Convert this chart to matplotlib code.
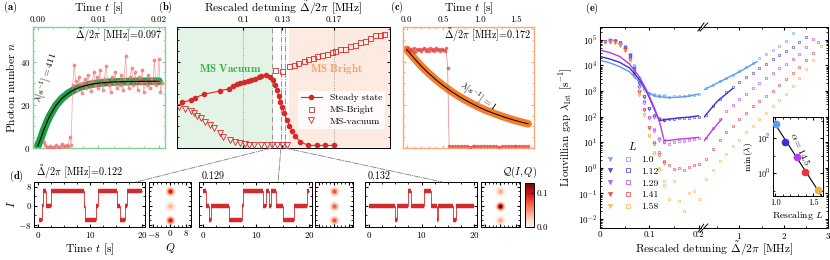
import numpy as np
import matplotlib.pyplot as plt
import matplotlib.colors as mcolors
from matplotlib.ticker import MultipleLocator, FixedLocator, NullFormatter, LogLocator
from matplotlib.patches import ConnectionPatch
from matplotlib.lines import Line2D
from matplotlib.legend_handler import HandlerTuple
from matplotlib.cm import ScalarMappable

plt.rcParams['font.family'] = ['cmr10', 'DejaVu Serif']
plt.rcParams['mathtext.fontset'] = 'cm'
plt.rcParams['axes.formatter.use_mathtext'] = True
plt.rcParams['font.size'] = 7
plt.rcParams['axes.labelsize'] = 8.3
plt.rcParams['xtick.labelsize'] = 6.5
plt.rcParams['ytick.labelsize'] = 6.5
plt.rcParams['xtick.direction'] = 'in'
plt.rcParams['ytick.direction'] = 'in'
plt.rcParams['xtick.major.size'] = 2.5
plt.rcParams['ytick.major.size'] = 2.5
plt.rcParams['xtick.minor.size'] = 1.3
plt.rcParams['ytick.minor.size'] = 1.3
plt.rcParams['axes.linewidth'] = 0.7
plt.rcParams['xtick.major.pad'] = 2
plt.rcParams['ytick.major.pad'] = 2

# ---------------- data ----------------
# (a) switch-on at detuning 0.097 MHz
a_red_n = [2.8, 1.5, 0.5, 0.2, 0.8, 0.3, 0.1, 0.6, 1.4, 0.4, 0.2, 0.9, 1.8, 1.1, 0.7, 1.2, 1.0, 5.0, 1.5,
           29.0, 38.6, 31.0, 27.0, 33.0, 29.5, 25.5, 30.0, 32.0, 28.0,
           34.0, 30.0, 26.5, 31.0, 35.0, 29.0, 33.0, 28.0, 36.0, 30.0,
           27.0, 32.0, 38.0, 31.0, 29.0, 26.0, 33.0, 30.0, 35.0, 28.0,
           31.0, 29.0, 34.0, 27.0, 32.0, 42.5, 30.0, 28.0, 33.0, 37.0,
           29.0, 35.0, 31.0, 27.0, 33.0, 30.0, 36.0, 26.0, 31.0, 29.0,
           34.0, 28.0, 32.0, 30.0, 40.5, 29.0, 31.0, 41.0, 26.0, 30.0]
a_red_t = np.linspace(0.001, 0.0205, len(a_red_n))
a_t = [0, 0.0005, 0.001, 0.0015, 0.002, 0.003, 0.004, 0.005, 0.006, 0.007, 0.008, 0.009,
       0.010, 0.012, 0.014, 0.016, 0.018, 0.020]
a_n = [1.0, 4.5, 8.5, 12.0, 15.0, 19.8, 23.0, 25.3, 27.0, 28.2, 29.0, 29.6, 30.0, 30.5,
       30.7, 30.8, 30.9, 30.9]

# (b) photon number vs rescaled detuning
ss_x = [0.0528, 0.0598, 0.063, 0.0695, 0.0818, 0.0887, 0.092, 0.0952, 0.0977, 0.1003, 0.1033,
        0.106, 0.109, 0.1118, 0.114, 0.1177, 0.1208, 0.1233, 0.1246, 0.126, 0.1272, 0.1285,
        0.1298, 0.1315, 0.1336, 0.1356, 0.1375, 0.14, 0.1438, 0.1502, 0.1567, 0.163, 0.1695]
ss_n = [21.1, 22.2, 23.3, 24.8, 26.4, 27.4, 28.8, 29.8, 30.1, 30.5, 31.0, 31.3, 32.1, 32.7, 33.2,
        33.6, 32.9, 31.3, 29.3, 26.7, 24.2, 21.5, 18.9, 16.1, 13.0, 10.2, 7.9, 5.6, 2.9, 1.2,
        1.2, 1.2, 1.2]
br_x = [0.1246, 0.1298, 0.1349, 0.1387, 0.1425, 0.1464, 0.1502, 0.154, 0.1567, 0.1605, 0.1644,
        0.1682, 0.1708, 0.1746, 0.1785, 0.1823, 0.1862, 0.19, 0.1938, 0.1977, 0.2015, 0.2054, 0.2085]
br_n = [36.0, 35.8, 37.8, 38.5, 39.4, 40.1, 41.2, 41.7, 42.5, 42.9, 43.7, 44.5, 44.8, 45.6, 46.0,
        47.1, 47.9, 49.0, 49.6, 50.7, 52.1, 52.4, 52.7]
vac_x = [0.0505, 0.0554, 0.0598, 0.0618, 0.0644, 0.0675, 0.0708, 0.0746, 0.0772, 0.0818, 0.0848,
         0.09, 0.0938, 0.0977, 0.1015, 0.1048, 0.108, 0.114, 0.118, 0.122, 0.126, 0.13, 0.1336]
vac_n = [19.0, 18.0, 17.2, 16.4, 14.9, 13.8, 12.2, 10.7, 9.2, 6.8, 5.3, 3.7, 2.9, 2.2, 1.9, 1.6,
         1.6, 1.6, 1.6, 1.6, 1.6, 1.6, 1.6]
b_ticks = [0.1, 0.13, 0.17]
d_detunings = [0.122, 0.129, 0.132]

# (c) switch-off at detuning 0.172 MHz
c_red_hi = [45.5, 46.2, 44.8, 45.9, 45.1, 46.5, 44.6, 45.8, 45.3, 46.0, 44.9, 45.7, 46.3, 45.0,
            45.6, 44.7, 46.1, 45.4, 45.9, 44.8, 46.4, 45.2, 45.7, 45.0, 46.0, 45.3, 44.9, 46.2, 37.0]
c_red_lo = [0.9, 0.7, 0.8, 1.0, 0.7, 0.8, 0.9, 0.6, 0.8, 0.9, 0.7, 0.8, 1.0, 0.8, 0.7, 0.9, 0.8,
            0.6, 0.8, 0.9, 0.7, 0.8, 0.9, 0.8, 0.7, 1.0, 0.8, 0.8]
c_t = [0, 0.1, 0.2, 0.3, 0.4, 0.5, 0.6, 0.7, 0.8, 0.9, 1.0, 1.1, 1.2, 1.3, 1.4, 1.5, 1.6, 1.66]
c_n = [45.6, 41.6, 37.9, 34.6, 31.6, 28.9, 26.4, 24.2, 22.2, 20.4, 18.7, 17.2, 15.9, 14.7, 13.6,
       12.6, 11.7, 11.2]

# (d) telegraph traces: (start, end, level)
d_segments = [
    [(0.2, 0.8, -6), (0.8, 1.0, 0), (1.0, 1.6, 6), (1.6, 2.5, 0), (2.5, 8.8, 6), (8.8, 9.0, 0),
     (9.0, 11.2, -6), (11.2, 11.6, 0), (11.6, 15.1, 6), (15.1, 15.8, 0), (15.8, 16.6, -6),
     (16.6, 17.0, 0), (17.0, 20.0, 6)],
    [(0.0, 0.7, 6), (0.7, 1.2, 0), (1.2, 1.6, -6), (1.6, 5.0, 0), (5.0, 7.3, -6), (7.3, 7.6, 0),
     (7.6, 11.3, 6), (11.3, 11.9, 0), (11.9, 12.5, 6), (12.5, 12.9, 0), (12.9, 13.8, 6),
     (13.8, 15.1, 0), (15.1, 17.2, -6), (17.2, 19.6, 0), (19.6, 19.9, 6)],
    [(0.0, 4.9, 0), (4.9, 5.3, -6), (5.3, 7.4, 0), (7.4, 8.0, 6), (8.0, 10.5, 0), (10.5, 11.8, 6),
     (11.8, 12.9, 0), (12.9, 13.2, -6), (13.2, 15.9, 0), (15.9, 16.6, -6), (16.6, 20.0, 0)],
]
q_levels = [6, 0, -6]
q_peaks = [[0.10, 0.035, 0.10], [0.075, 0.07, 0.075], [0.04, 0.13, 0.04]]

# (e) Liouvillian gap, log10 values
L_vals = ['1.0', '1.12', '1.29', '1.41', '1.58']
L_colors = ['#5b9cf0', '#3a2fd8', '#b43cf0', '#e8333a', '#f0b43c']
e_sq_x = [0.01, 0.02, 0.03, 0.04, 0.05, 0.06, 0.07, 0.08, 0.09, 0.10, 0.11, 0.12, 0.13, 0.14,
          0.15, 0.16, 0.17, 0.18, 0.19, 0.20]
e_sq_left = [
    [4.95, 4.98, 4.95, 4.9, 4.75, 4.45, 4.0, 3.5, 3.1, 2.92, 2.85, 2.82, 2.8, 2.78, 2.8, 2.82, 2.8, 2.84, 2.86, 2.9],
    [4.97, 4.95, 4.98, 4.9, 4.7, 4.4, 3.9, 3.35, 2.8, 2.35, 2.05, 1.9, 1.87, 1.9, 1.9, 1.93, 1.95, 1.96, 1.98, 2.0],
    [4.95, 4.97, 4.95, 4.88, 4.7, 4.35, 3.8, 3.2, 2.6, 2.0, 1.5, 1.15, 1.0, 0.95, 1.0, 1.04, 1.06, 1.1, 1.12, 1.15],
    [4.9, 4.95, 4.93, 4.85, 4.65, 4.3, 3.7, 3.0, 2.3, 1.6, 1.0, 0.6, 0.25, 0.1, -0.05, 0.0, -0.1, 0.05, 0.1, 0.15],
    [4.9, 4.92, 4.9, 4.85, 4.6, 4.2, 3.6, 2.9, 2.1, 1.3, 0.6, 0.0, -0.5, -1.2, -0.5, -1.3, -1.7, -1.0, -0.9, -1.2],
]
e_tri_x = [0.02, 0.03, 0.04, 0.05, 0.06, 0.07, 0.08, 0.09, 0.10, 0.11, 0.12, 0.13]
e_tri = [
    [5.0, 4.95, 4.85, 4.7, 4.4, 3.95, 3.45, 3.05, 2.9, 2.85, 2.82, 2.8],
    [4.95, 4.9, 4.8, 4.65, 4.35, 3.85, 3.3, 2.75, 2.3, 2.0, 1.9, 1.88],
    [4.95, 4.92, 4.85, 4.65, 4.3, 3.75, 3.15, 2.55, 1.95, 1.45, 1.1, 1.0],
    [4.9, 4.9, 4.8, 4.6, 4.25, 3.65, 2.95, 2.25, 1.55, 0.95, 0.5, 0.2],
    [4.9, 4.88, 4.8, 4.55, 4.15, 3.55, 2.85, 2.05, 1.25, 0.55, -0.1, -0.7],
]
e_sq_right_x = [
    [0.25, 0.4, 0.55, 0.7, 0.85, 1.0, 1.15, 1.3, 1.45, 1.6, 1.75, 1.9, 2.05, 2.2],
    [0.25, 0.4, 0.55, 0.7, 0.85, 1.0, 1.15, 1.3, 1.45, 1.6, 1.75, 1.9, 2.05, 2.2, 2.35, 2.5],
    [0.25, 0.4, 0.55, 0.7, 0.85, 1.0, 1.15, 1.3, 1.45, 1.6, 1.75, 1.9, 2.05, 2.2, 2.35, 2.5, 2.65],
    [0.25, 0.4, 0.55, 0.7, 0.85, 1.0, 1.15, 1.3, 1.45, 1.6, 1.75, 1.9, 2.05, 2.2, 2.35, 2.5, 2.65, 2.78],
    [0.25, 0.4, 0.55, 0.7, 0.85, 1.0, 1.15, 1.3, 1.45, 1.6, 1.75, 1.9, 2.05, 2.2, 2.35, 2.5, 2.65, 2.85],
]
e_sq_right = [
    [3.1, 3.25, 3.38, 3.5, 3.63, 3.77, 3.93, 4.1, 4.28, 4.45, 4.6, 4.75, 4.95, 5.25],
    [2.05, 2.4, 2.7, 2.95, 3.15, 3.35, 3.55, 3.72, 3.9, 4.07, 4.25, 4.4, 4.55, 4.72, 4.9, 5.1],
    [1.15, 1.55, 1.9, 2.2, 2.45, 2.7, 2.9, 3.1, 3.3, 3.5, 3.7, 3.88, 4.05, 4.25, 4.45, 4.7, 5.05],
    [0.35, 0.75, 1.1, 1.4, 1.65, 1.9, 2.15, 2.4, 2.6, 2.8, 3.0, 3.25, 3.45, 3.7, 3.95, 4.2, 4.5, 4.9],
    [-0.45, -0.1, 0.25, 0.55, 0.85, 1.1, 1.4, 1.65, 1.9, 2.15, 2.4, 2.65, 2.9, 3.2, 3.5, 3.85, 4.2, 4.75],
]
e_line_x = [0, 0.02, 0.04, 0.06, 0.08, 0.09, 0.10, 0.11, 0.12, 0.13, 0.14, 0.16, 0.18, 0.2]
e_line_left = [
    [4.2, 4.1, 3.95, 3.75, 3.35, 3.1, 2.9, 2.82, 2.78, 2.76, 2.74, 2.76, 2.8, 2.88],
    [4.35, 4.25, 4.12, 3.9, 3.45, 3.15, 2.75, 2.3, 1.85, 1.87, 1.9, 1.95, 1.98, 2.03],
    [4.6, 4.5, 4.35, 4.05, 3.55, 3.2, 2.8, 2.35, 1.85, 1.08, 1.07, 1.12, 1.15, 1.19],
]
e_line_right_x = [[0.2, 0.6, 1.0, 1.4], [0.2, 0.5, 0.85], [0.2, 0.4, 0.6]]
e_line_right = [[3.05, 3.4, 3.75, 4.15], [1.98, 2.6, 3.1], [1.05, 1.5, 1.9]]
inset_L = [1.01, 1.13, 1.29, 1.39, 1.57]
inset_min = [2.8, 1.79, 0.93, 0.04, -0.97]

# ---------------- figure ----------------
W, H = 830, 260
fig = plt.figure(figsize=(W / 100, H / 100), dpi=100)


def box(x0, y0, x1, y1):
    return fig.add_axes([x0 / W, 1 - y1 / H, (x1 - x0) / W, (y1 - y0) / H])


def ftext(x, y, s, **kw):
    fig.text(x / W, 1 - y / H, s, **kw)


green, orange, red = '#1e9e46', '#f47d2c', '#d62a2a'
green_sp, orange_sp = '#82d394', '#f7ab76'
detl = r'$\tilde{\Delta}/2\pi$ [MHz]='

# (a)
axa = box(33, 27, 165, 148)
axa.plot(a_t, a_n, color=green, lw=5.5, solid_capstyle='round', zorder=2)
axa.plot(a_red_t, a_red_n, '-o', color='#ee7777', ms=1.8, lw=0.5, alpha=0.7, zorder=3)
axa.plot(a_t, a_n, color='k', lw=0.8, zorder=4)
axa.set_xlim(-0.0008, 0.021)
axa.set_ylim(0, 56)
axa.xaxis.tick_top()
axa.xaxis.set_label_position('top')
axa.set_xticks([0, 0.01, 0.02])
axa.set_xticklabels(['0.00', '0.01', '0.02'])
axa.xaxis.set_minor_locator(MultipleLocator(0.0025))
axa.set_yticks([0, 20, 40])
axa.yaxis.set_minor_locator(MultipleLocator(5))
axa.set_xlabel(r'Time $t$ [s]', labelpad=3)
axa.set_ylabel(r'Photon number $n$', labelpad=2)
axa.tick_params(which='both', top=True, bottom=True, left=True, right=True, color=green_sp)
for s in axa.spines.values():
    s.set_color(green_sp)
    s.set_linewidth(1.0)
axa.text(0.98, 0.93, detl + '0.097', transform=axa.transAxes, ha='right', va='center', fontsize=7.3)
ftext(47, 78, r'$\lambda[s^{-1}]=411$', rotation=72, ha='center', va='center', fontsize=7)

# (b)
axb = box(177, 27, 390, 148)
axb.set_xlim(0.049, 0.213)
axb.set_ylim(0, 56)
axb.axvspan(0.049, d_detunings[0], color='#e3f4e7', lw=0, zorder=0)
axb.axvspan(d_detunings[2] + 0.003, 0.213, color='#fdebe1', lw=0, zorder=0)
for xv in [0.1, 0.17]:
    axb.axvline(xv, color='grey', ls=':', lw=0.6, zorder=1)
for xv in d_detunings:
    axb.axvline(xv, color='grey', ls='-.', lw=0.6, zorder=1)
axb.plot(ss_x, ss_n, '-o', color=red, ms=3, lw=0.8, label='Steady state', zorder=4)
axb.plot(br_x, br_n, 's', color=red, mfc='none', ms=3.6, mew=0.6, label='MS-Bright', zorder=4)
axb.plot(vac_x, vac_n, 'v', color=red, mfc='none', ms=4, mew=0.6, label='MS-vacuum', zorder=4)
axb.xaxis.tick_top()
axb.xaxis.set_label_position('top')
axb.set_xticks(b_ticks)
axb.set_xticklabels([str(v) for v in b_ticks])
axb.yaxis.set_major_locator(MultipleLocator(20))
axb.yaxis.set_minor_locator(MultipleLocator(5))
axb.yaxis.set_major_formatter(NullFormatter())
axb.set_xlabel(r'Rescaled detuning $\tilde{\Delta}/2\pi$ [MHz]', labelpad=3)
axb.tick_params(which='both', top=True, bottom=True, left=True, right=True)
axb.text(0.09, 37, r'$\mathbf{MS\ Vacuum}$', color='#33b24a', ha='center', va='center',
         fontsize=8, zorder=6)
axb.text(0.172, 36.5, r'$\mathbf{MS\ Bright}$', color='#f5a06a', ha='center', va='center',
         fontsize=8, zorder=6)
axb.legend(loc='lower right', bbox_to_anchor=(1.0, 0.12), fontsize=7, frameon=True,
           framealpha=0.85, edgecolor='none', fancybox=False, handlelength=2.2,
           borderpad=0.3, labelspacing=0.3)

# (c)
axc = box(403, 27, 534, 148)
axc.plot(c_t, c_n, color=orange, lw=5.5, solid_capstyle='round', zorder=2)
c_red_t = list(np.linspace(0, 0.56, len(c_red_hi))) + list(np.linspace(0.58, 1.66, len(c_red_lo)))
axc.plot(c_red_t, c_red_hi + c_red_lo, '-o', color='#e24a4a', ms=1.6, lw=0.5, alpha=0.7, zorder=3)
axc.plot(c_t, c_n, color='k', lw=0.7, zorder=4)
axc.set_xlim(-0.05, 1.74)
axc.set_ylim(0, 56)
axc.xaxis.tick_top()
axc.xaxis.set_label_position('top')
axc.set_xticks([0, 0.5, 1.0, 1.5])
axc.set_xticklabels(['0.0', '0.5', '1.0', '1.5'])
axc.xaxis.set_minor_locator(MultipleLocator(0.1))
axc.yaxis.set_major_locator(MultipleLocator(20))
axc.yaxis.set_minor_locator(MultipleLocator(5))
axc.yaxis.set_major_formatter(NullFormatter())
axc.set_xlabel(r'Time $t$ [s]', labelpad=3)
axc.tick_params(which='both', top=True, bottom=True, left=True, right=True, color=orange_sp)
for s in axc.spines.values():
    s.set_color(orange_sp)
    s.set_linewidth(1.0)
axc.text(0.98, 0.93, detl + '0.172', transform=axc.transAxes, ha='right', va='center', fontsize=7.3)
ftext(478, 97, r'$\lambda[s^{-1}]=1$', rotation=-35, ha='center', va='center', fontsize=7)

# (d)
trace_boxes = [(34, 145), (199, 312), (365, 477)]
q_boxes = [(149, 191), (315, 353), (481, 520)]
cmap = plt.get_cmap('Reds')
norm = mcolors.Normalize(0, 0.13)
for k in range(3):
    axd = box(trace_boxes[k][0], 182, trace_boxes[k][1], 227)
    seg = d_segments[k]
    px, py = [], []
    for t0, t1, lev in seg:
        px += [t0, t1]
        py += [lev, lev]
    axd.plot(px, py, color=red, lw=0.6)
    axd.hlines([s[2] for s in seg], [s[0] for s in seg], [s[1] for s in seg], color=red, lw=3.2)
    axd.set_xlim(-0.7, 20.5)
    axd.set_ylim(-9, 10)
    axd.set_xticks([0, 10, 20])
    axd.set_yticks([-8, 0, 8])
    axd.xaxis.set_minor_locator(MultipleLocator(2.5))
    axd.yaxis.set_minor_locator(MultipleLocator(4))
    axd.tick_params(which='both', top=True, right=True)
    if k == 0:
        axd.set_yticklabels([r'$-8$', '0', '8'])
        axd.set_ylabel(r'$I$', labelpad=1)
        axd.set_xlabel(r'Time $t$ [s]', labelpad=1)
        axd.text(0.02, 1.03, detl + '0.122', transform=axd.transAxes, ha='left', va='bottom', fontsize=7.3)
    else:
        axd.yaxis.set_major_formatter(NullFormatter())
        axd.text(0.02, 1.03, str(d_detunings[k]), transform=axd.transAxes, ha='left', va='bottom', fontsize=7.3)
    con = ConnectionPatch(xyA=(d_detunings[k], 0), coordsA=axb.get_xaxis_transform(),
                          xyB=([0.92, 0.70, 0.69][k], 1.0), coordsB=axd.transAxes,
                          color='grey', ls='-.', lw=0.6)
    fig.add_artist(con)

    axq = box(q_boxes[k][0], 182, q_boxes[k][1], 227)
    for lev, pk in zip(q_levels, q_peaks[k]):
        for s, f in [(55, 0.12), (32, 0.35), (16, 0.65), (6, 1.0)]:
            axq.scatter([0], [lev], s=s, color=cmap(norm(pk * f)), lw=0)
    axq.set_xlim(-10, 10.3)
    axq.set_ylim(-9, 10)
    axq.set_xticks([-8, 0, 8])
    axq.set_yticks([-8, 0, 8])
    axq.xaxis.set_minor_locator(MultipleLocator(2))
    axq.yaxis.set_minor_locator(MultipleLocator(2))
    axq.yaxis.set_major_formatter(NullFormatter())
    axq.tick_params(which='both', top=True, right=True)
    if k == 0:
        axq.set_xticklabels([r'$-8$', '0', '8'])
        axq.set_xlabel(r'$Q$', labelpad=1)
    else:
        axq.xaxis.set_major_formatter(NullFormatter())

cax = box(525, 183, 534, 227)
cb = fig.colorbar(ScalarMappable(norm=norm, cmap=cmap), cax=cax)
cb.set_ticks([0.0, 0.1])
cb.set_ticklabels(['0.0', '0.1'])
cb.outline.set_linewidth(0.7)
cax.tick_params(labelsize=6.5, direction='in', length=2)
ftext(520, 172, r'$\mathcal{Q}(I,Q)$', ha='center', va='center', fontsize=7.5)

# (e)
ax1 = box(600, 27, 701, 228)
ax2 = box(704, 27, 828, 228)
for ax in (ax1, ax2):
    ax.set_yscale('log')
    ax.set_ylim(10 ** -2.35, 10 ** 5.5)
    ax.yaxis.set_major_locator(LogLocator(base=10, numticks=20))
    ax.yaxis.set_minor_locator(LogLocator(base=10, subs=np.arange(2, 10), numticks=20))
for i in range(5):
    c = L_colors[i]
    ax1.plot(e_sq_x, 10 ** np.array(e_sq_left[i]), 's', color=c, mfc='none', ms=2.0, mew=0.5, alpha=0.8)
    ax1.plot(e_tri_x, 10 ** np.array(e_tri[i]), 'v', color=c, mfc='none', ms=2.4, mew=0.5, alpha=0.8)
    ax2.plot(e_sq_right_x[i], 10 ** np.array(e_sq_right[i]), 's', color=c, mfc='none', ms=2.0, mew=0.5, alpha=0.8)
for i in range(3):
    c = L_colors[i]
    ax1.plot(e_line_x, 10 ** np.array(e_line_left[i]), '-', color=c, lw=1.0)
    ax2.plot(e_line_right_x[i], 10 ** np.array(e_line_right[i]), '-', color=c, lw=1.0)
ax1.set_xlim(0, 0.205)
ax1.set_xticks([0, 0.1, 0.2])
ax1.set_xticklabels(['0', '0.1', '0.2'])
ax1.xaxis.set_minor_locator(MultipleLocator(0.05))
ax1.spines['right'].set_visible(False)
ax1.tick_params(which='both', top=True, right=False)
ax1.set_ylabel(r'Liouvillian gap $\lambda_{\rm 1st}$ [s$^{-1}$]', labelpad=2, fontsize=8)
ax2.set_xlim(0.2, 3.0)
ax2.set_xticks([1, 2, 3])
ax2.xaxis.set_minor_locator(MultipleLocator(0.5))
ax2.spines['left'].set_visible(False)
ax2.tick_params(which='both', left=False, labelleft=False, top=True, right=True)
for ax, xx in ((ax1, 1.0), (ax2, 0.0)):
    for yy in (0.0, 1.0):
        ax.plot([xx - 0.03, xx + 0.03], [yy - 0.02, yy + 0.02],
                transform=ax.transAxes, color='k', lw=0.7, clip_on=False)
ftext(714, 249, r'Rescaled detuning $\tilde{\Delta}/2\pi$ [MHz]', ha='center', va='center', fontsize=8.3)

handles = []
for c in L_colors:
    h1 = Line2D([], [], marker='v', color=c, ls='none', ms=3, mew=0.5, alpha=0.8)
    h2 = Line2D([], [], marker='s', color=c, mfc='none', ls='none', ms=3, mew=0.5)
    handles.append((h1, h2))
ax1.legend(handles, L_vals, handler_map={tuple: HandlerTuple(ndivide=None, pad=1.2)},
           loc='upper left', bbox_to_anchor=(0.0, 0.47), frameon=False, fontsize=7,
           title=r'$L$', title_fontsize=8, handlelength=2.5, labelspacing=0.3,
           borderpad=0.2, handletextpad=1.0)

axi = box(773, 117, 823, 196)
axi.set_yscale('log')
for Lv, mv, c in zip(inset_L, inset_min, L_colors):
    axi.plot([Lv], [10 ** mv], 'o', color=c, ms=4.5, zorder=3)
fit = np.polyfit(inset_L, inset_min, 1)
xl = np.array([0.97, 1.63])
axi.plot(xl, 10 ** np.polyval(fit, xl), 'k-', lw=0.8, zorder=2)
axi.set_xlim(0.97, 1.63)
axi.set_ylim(10 ** -1.31, 10 ** 3.2)
axi.set_xticks([1.0, 1.5])
axi.set_xticklabels(['1.0', '1.5'])
axi.xaxis.set_minor_locator(MultipleLocator(0.1))
axi.yaxis.set_major_locator(FixedLocator([1, 100]))
axi.yaxis.set_minor_locator(LogLocator(base=10, subs=(1.0,), numticks=20))
axi.yaxis.set_minor_formatter(NullFormatter())
axi.tick_params(labelsize=6, which='both', top=True, right=True)
axi.set_xlabel(r'Rescaling $L$', labelpad=1, fontsize=7)
axi.set_ylabel(r'min$(\lambda)$', labelpad=1, fontsize=7)
axi.text(0.55, 0.6, r'$\alpha=14.5$', transform=axi.transAxes, rotation=-65, ha='center', va='center', fontsize=7)

# panel labels
for lab, x, y in [('(a)', 10, 7), ('(b)', 165, 7), ('(c)', 397, 7), ('(d)', 16, 176), ('(e)', 592, 8)]:
    ftext(x, y, r'$\mathbf{' + lab + '}$', ha='center', va='center', fontsize=7.5)

fig.savefig('out.png', dpi=100)
